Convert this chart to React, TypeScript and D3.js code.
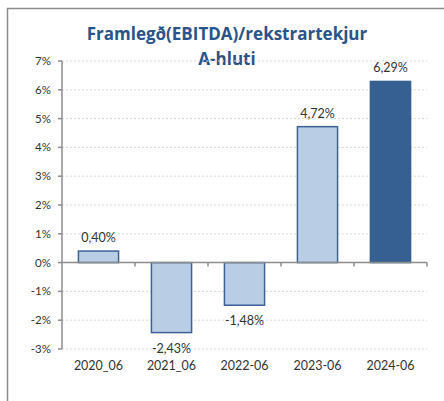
import React from 'react';
import * as d3 from 'd3';

const categories = ['2020_06', '2021_06', '2022-06', '2023-06', '2024-06'];
const values = [0.40, -2.43, -1.48, 4.72, 6.29];
const yTicks = [7, 6, 5, 4, 3, 2, 1, 0, -1, -2, -3];

const App = () => {
    const width = 444;
    const height = 401;
    const left = 62;
    const right = 427;
    const top = 61;
    const bottom = 349;

    const x = d3.scaleBand<string>()
        .domain(categories)
        .range([left, right])
        .paddingInner(0.45)
        .paddingOuter(0.225);

    const band = d3.scaleBand<string>()
        .domain(categories)
        .range([left, right]);

    const y = d3.scaleLinear()
        .domain([-3, 7])
        .range([bottom, top]);

    const fmt = (v: number) => v.toFixed(2).replace('.', ',') + '%';
    const font = 'Lato, "Open Sans", sans-serif';
    const titleFont = '"Open Sans", sans-serif';

    return (
        <svg width={width} height={height}
            style={{ position: 'absolute', left: 0, top: 0, background: '#fff' }}>
            <path d={`M7.5,${height} V8.5 H${width}`} fill="none" stroke="#8c8c8c" strokeWidth={1.5} />

            <text x={227} y={40} textAnchor="middle" fontFamily={titleFont} fontWeight="bold"
                fontSize={17} fill="#2a538a">Framlegð(EBITDA)/rekstrartekjur</text>
            <text x={227} y={65} textAnchor="middle" fontFamily={titleFont} fontWeight="bold"
                fontSize={17} fill="#2a538a">A-hluti</text>

            {yTicks.map(t => (
                <g key={t}>
                    {t !== 0 && (
                        <line x1={left} x2={right} y1={y(t)} y2={y(t)}
                            stroke="#d9d9d9" strokeDasharray="2,2" strokeWidth={1} />
                    )}
                    <line x1={left - 4} x2={left} y1={y(t)} y2={y(t)} stroke="#8c8c8c" strokeWidth={1.5} />
                    <text x={51} y={y(t)} dy="0.35em" textAnchor="end"
                        fontFamily={font} fontSize={11.5} fill="#333">{t}%</text>
                </g>
            ))}

            {categories.map((c, i) => {
                const v = values[i];
                const y0 = y(0);
                const y1 = y(v);
                const last = i === categories.length - 1;
                return (
                    <g key={c}>
                        <rect x={x(c)} y={Math.min(y0, y1)} width={x.bandwidth()}
                            height={Math.abs(y1 - y0)}
                            fill={last ? '#376092' : '#b9cde5'}
                            stroke={last ? '#376092' : '#3b6396'} strokeWidth={1.5} />
                        <text x={(x(c) as number) + x.bandwidth() / 2}
                            y={v >= 0 ? y1 - 9 : y1 + 20}
                            textAnchor="middle" fontFamily={font} fontSize={12.5} fill="#333">{fmt(v)}</text>
                        <text x={(band(c) as number) + band.bandwidth() / 2} y={370}
                            textAnchor="middle" fontFamily={font} fontSize={12.5} fill="#333">{c}</text>
                    </g>
                );
            })}

            {categories.map(c => (
                <line key={'t' + c} x1={(band(c) as number) + band.bandwidth()}
                    x2={(band(c) as number) + band.bandwidth()}
                    y1={y(0)} y2={y(0) + 4} stroke="#8c8c8c" strokeWidth={1.5} />
            ))}
            <line x1={left} x2={right} y1={y(0)} y2={y(0)} stroke="#8c8c8c" strokeWidth={1.5} />
            <line x1={left} x2={left} y1={top} y2={bottom} stroke="#8c8c8c" strokeWidth={1.5} />
        </svg>
    );
};

export default App;
